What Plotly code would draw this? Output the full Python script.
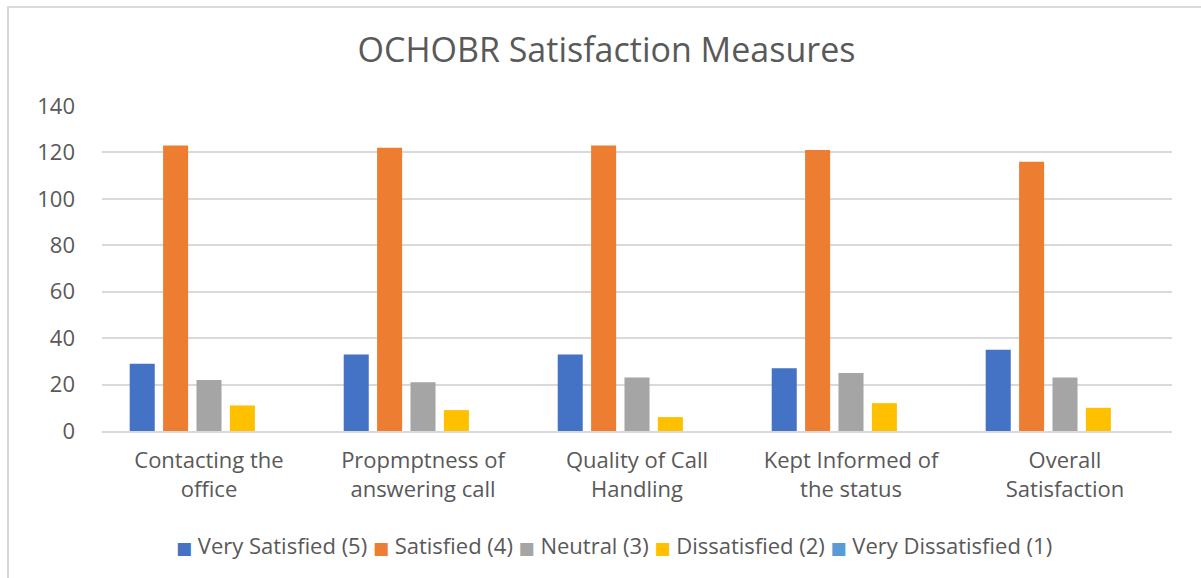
import plotly.graph_objects as go

categories = [
    "Contacting the<br>office",
    "Propmptness of<br>answering call",
    "Quality of Call<br>Handling",
    "Kept Informed of<br>the status",
    "Overall<br>Satisfaction",
]
very_satisfied = [29, 33, 33, 27, 35]
satisfied = [123, 122, 123, 121, 116]
neutral = [22, 21, 23, 25, 23]
dissatisfied = [11, 9, 6, 12, 10]
very_dissatisfied = [0, 0, 0, 0, 0]

series = [
    ("Very Satisfied (5)", very_satisfied, "#4472C4"),
    ("Satisfied (4)", satisfied, "#ED7D31"),
    ("Neutral (3)", neutral, "#A5A5A5"),
    ("Dissatisfied (2)", dissatisfied, "#FFC000"),
    ("Very Dissatisfied (1)", very_dissatisfied, "#5B9BD5"),
]

FONT = "Open Sans"
TEXT = "#595959"
GRID = "#D9D9D9"

fig = go.Figure()
for name, vals, color in series:
    fig.add_trace(go.Bar(
        name=name, x=categories, y=vals,
        marker=dict(color=color, line=dict(width=0)),
        showlegend=False,
    ))

W, H = 1201, 578
L, R, T, B = 102, 29, 106, 147
pw, ph = W - L - R, H - T - B

def px_x(p):
    return (p - L) / pw

def px_y(p):
    return (H - B - p) / ph

# compact legend row: coloured square followed by the series name
legend_text = " ".join(
    f"<span style='color:{color};font-size:17px;font-family:DejaVu Sans'>■</span> {name}"
    for name, _, color in series
)

fig.update_layout(
    width=W, height=H,
    margin=dict(l=L, r=R, t=T, b=B),
    paper_bgcolor="white", plot_bgcolor="white",
    barmode="group", bargap=0.22, bargroupgap=0.25,
    font=dict(family=FONT, color=TEXT, size=20),
    title=dict(text="OCHOBR Satisfaction Measures", x=0.505, xanchor="center",
               y=1 - 50 / H, yanchor="middle",
               font=dict(family=FONT, size=34, color=TEXT)),
    showlegend=False,
    xaxis=dict(showgrid=False, showline=True, linecolor=GRID, linewidth=2,
               ticks="", ticklabelstandoff=9,
               tickfont=dict(family=FONT, size=22, color=TEXT)),
    yaxis=dict(range=[0, 140], dtick=20, showgrid=True, gridcolor=GRID,
               gridwidth=2, zeroline=False, showline=False, ticks="",
               ticklabelstandoff=26,
               tickfont=dict(family=FONT, size=22, color=TEXT)),
    annotations=[dict(text=legend_text, xref="paper", yref="paper",
                      x=px_x(614), y=px_y(545), xanchor="center",
                      yanchor="middle", showarrow=False,
                      font=dict(family=FONT, size=22, color=TEXT))],
    shapes=[dict(type="rect", xref="paper", yref="paper",
                 x0=px_x(8), x1=px_x(1210), y0=px_y(590), y1=px_y(7),
                 line=dict(color=GRID, width=2), fillcolor="rgba(0,0,0,0)",
                 layer="below")],
)

fig.write_html("out.html")
